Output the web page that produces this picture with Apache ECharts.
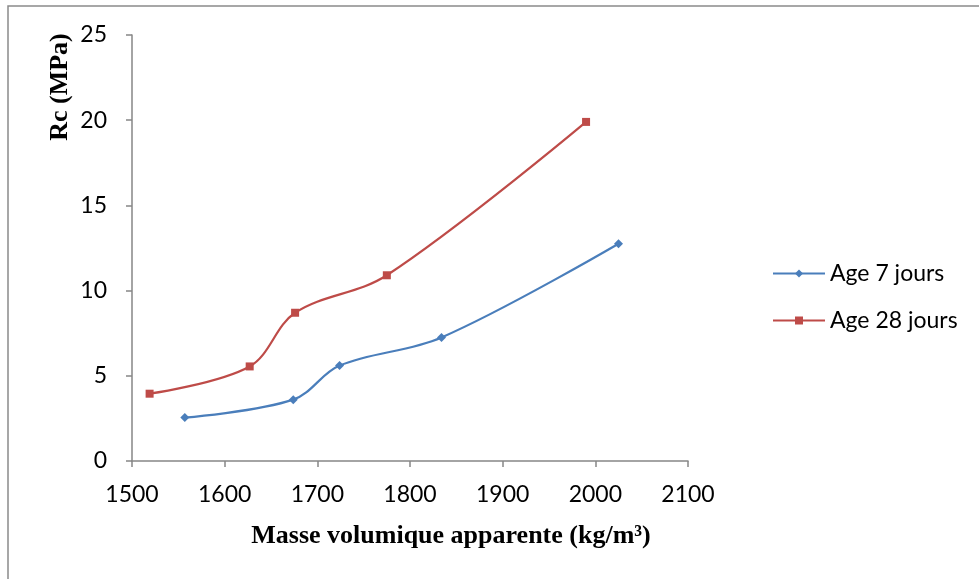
<!DOCTYPE html>
<html>
<head>
<meta charset="utf-8">
<script src="https://cdn.jsdelivr.net/npm/echarts@6/dist/echarts.min.js"></script>
<style>
  html, body { margin: 0; padding: 0; background: #fff; }
  #chart { width: 979px; height: 579px; }
</style>
</head>
<body>
<div id="chart"></div>
<script>
// data
const seriesNames = ['Age 7 jours', 'Age 28 jours']
const age7 = [[1557, 2.55], [1674, 3.6], [1724, 5.6], [1834, 7.25], [2025, 12.75]]
const age28 = [[1519, 3.95], [1627, 5.55], [1676, 8.7], [1775, 10.9], [1990, 19.9]]
const xTicks = [1500, 1600, 1700, 1800, 1900, 2000, 2100]
const yTicks = [0, 5, 10, 15, 20, 25]
const xTitle = 'Masse volumique apparente (kg/m³)'
const yTitle = 'Rc (MPa)'

const labelFont = 'Lato, "Open Sans", sans-serif'
const titleFont = '"Liberation Serif", "DejaVu Serif", serif'
const axisGray = '#868686'

const myChart = echarts.init(document.getElementById('chart'))

myChart.setOption({
  animation: false,
  backgroundColor: '#fff',
  grid: {
    left: 132,
    right: 291,
    top: 35,
    bottom: 118,
  },
  legend: {
    orient: 'vertical',
    left: 767,
    top: 257,
    itemWidth: 52,
    itemHeight: 10,
    itemGap: 24,
    textStyle: {
      fontFamily: labelFont,
      fontSize: 23,
      color: '#000',
    },
    data: seriesNames,
  },
  xAxis: {
    type: 'value',
    min: xTicks[0],
    max: xTicks[xTicks.length - 1],
    interval: 100,
    splitLine: { show: false },
    axisLine: { show: true, lineStyle: { color: axisGray, width: 1.5 } },
    axisTick: { show: true, length: 6, lineStyle: { color: axisGray, width: 1.5 } },
    axisLabel: {
      margin: 22,
      fontFamily: labelFont,
      fontSize: 23,
      color: '#000',
      formatter: (v) => String(v),
    },
  },
  yAxis: {
    type: 'value',
    min: yTicks[0],
    max: yTicks[yTicks.length - 1],
    interval: 5,
    splitLine: { show: false },
    axisLine: { show: true, lineStyle: { color: axisGray, width: 1.5 } },
    axisTick: { show: true, length: 6, lineStyle: { color: axisGray, width: 1.5 } },
    axisLabel: {
      margin: 25,
      fontFamily: labelFont,
      fontSize: 23,
      color: '#000',
    },
  },
  graphic: [
    {
      type: 'rect',
      silent: true,
      shape: { x: 8, y: 6, width: 1000, height: 600 },
      style: { fill: null, stroke: '#8a8a8a', lineWidth: 1.5 },
    },
    {
      type: 'text',
      x: 60,
      y: 87,
      rotation: Math.PI / 2,
      style: {
        text: yTitle,
        fontFamily: titleFont,
        fontWeight: 'bold',
        fontSize: 26,
        fill: '#000',
        align: 'center',
        verticalAlign: 'middle',
      },
    },
    {
      type: 'text',
      x: 451,
      y: 536,
      style: {
        text: xTitle,
        fontFamily: titleFont,
        fontWeight: 'bold',
        fontSize: 26,
        fill: '#000',
        align: 'center',
        verticalAlign: 'middle',
      },
    },
  ],
  series: [
    {
      name: seriesNames[0],
      type: 'line',
      smooth: 0.35,
      data: age7,
      symbol: 'diamond',
      symbolSize: 9,
      lineStyle: { color: '#4a7ebb', width: 2.2 },
      itemStyle: { color: '#4a7ebb' },
    },
    {
      name: seriesNames[1],
      type: 'line',
      smooth: 0.35,
      data: age28,
      symbol: 'rect',
      symbolSize: 8,
      lineStyle: { color: '#be4b48', width: 2.2 },
      itemStyle: { color: '#be4b48' },
    },
  ],
})

window.onresize = function () {
  myChart.resize()
}
</script>
</body>
</html>
